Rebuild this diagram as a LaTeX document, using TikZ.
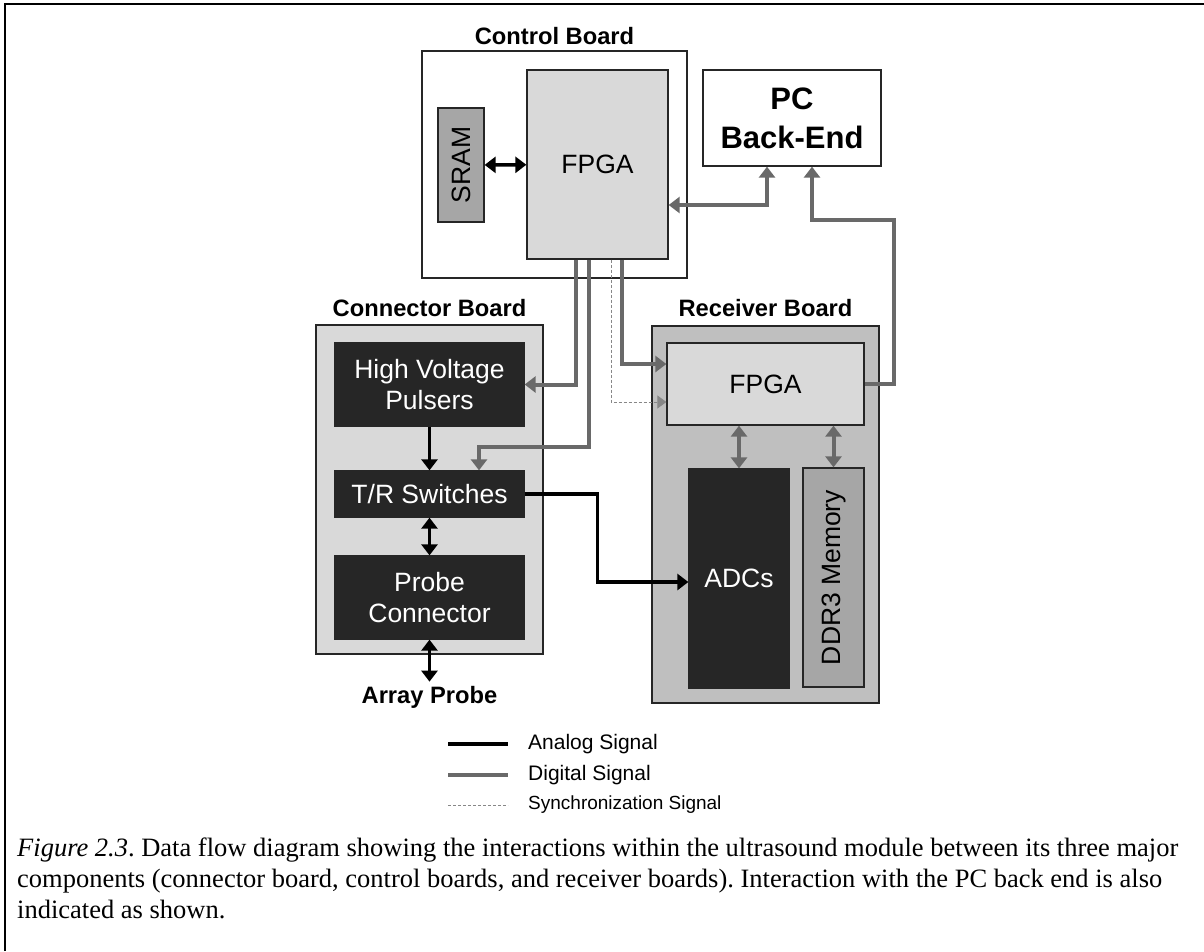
\documentclass[tikz,border=0pt]{standalone}
\usepackage{fontspec}
\setmainfont{Liberation Serif}
\setsansfont{Liberation Sans}
\usetikzlibrary{arrows.meta,positioning}

\definecolor{paleGray}{RGB}{217,217,217}
\definecolor{midGray}{RGB}{191,191,191}
\definecolor{chipGray}{RGB}{166,166,166}
\definecolor{chipBlack}{RGB}{38,38,38}
\definecolor{wireGray}{RGB}{105,105,105}
\definecolor{syncGray}{RGB}{135,135,135}

\begin{document}
\begin{tikzpicture}[
  x=1pt, y=-1pt,
  >={Triangle[length=11pt, width=16pt]},
  board/.style={draw=black!85, line width=1.3pt, inner sep=0},
  chip/.style={draw=black!85, line width=1.3pt, inner sep=0, align=center, font=\fontsize{26.5}{31}\selectfont\sffamily},
  title/.style={inner sep=0, font=\fontsize{23.7}{28}\selectfont\sffamily\bfseries},
  legtext/.style={anchor=west, inner sep=0, font=\fontsize{21}{25}\selectfont\sffamily},
  analog/.style={line width=3.5pt, black},
  digital/.style={line width=4pt, wireGray},
  sync/.style={line width=1pt, syncGray, dash pattern=on 3pt off 2pt, >={Triangle[length=9pt, width=13pt]}}
]
\useasboundingbox (0,0) rectangle (1204,951);
\draw[line width=2.5pt] (5,951) -- (5,4) -- (1204,4);

% control board
\node[board, minimum width=265pt, minimum height=227pt] (ctrlboard) at (554.5,164.5) {};
\node[title, above=5pt of ctrlboard] (ctrltitle) {Control Board};
\node[chip, fill=paleGray, minimum width=141pt, minimum height=189pt] (cfpga) at (597.5,164.5) {FPGA};
\node[chip, fill=chipGray, rotate=90, minimum width=114pt, minimum height=46pt] (sram) at (461,165) {SRAM};

\node[chip, fill=white, minimum width=178pt, minimum height=96pt, font=\fontsize{31}{39}\selectfont\sffamily\bfseries] (pc) at (792,118) {PC\\Back-End};

% connector board
\node[board, fill=paleGray, minimum width=227pt, minimum height=329pt] (connboard) at (429.5,489.5) {};
\node[title, above=7pt of connboard] (conntitle) {Connector Board};
\node[chip, fill=chipBlack, text=white, minimum width=189pt, minimum height=83pt] (pulsers) at (429.5,384.5) {High Voltage\\Pulsers};
\node[chip, fill=chipBlack, text=white, minimum width=189pt, minimum height=46pt] (trsw) at (429.5,494) {T/R Switches};
\node[chip, fill=chipBlack, text=white, minimum width=189pt, minimum height=83pt] (probe) at (429.5,597.5) {Probe\\Connector};
\node[title, inner ysep=4pt, below=42pt of probe] (array) {Array Probe};

% receiver board
\node[board, fill=midGray, minimum width=227pt, minimum height=377pt] (recvboard) at (765.5,514.5) {};
\node[title, above=8pt of recvboard] (recvtitle) {Receiver Board};
\node[chip, fill=paleGray, minimum width=197pt, minimum height=82pt] (rfpga) at (765.5,384) {FPGA};
\node[chip, fill=chipBlack, text=white, minimum width=100pt, minimum height=219pt] (adcs) at (739,578.5) {ADCs};
\node[chip, fill=chipGray, rotate=90, minimum width=219pt, minimum height=61pt] (ddr) at (833.5,577.5) {DDR3 Memory};

% signals
\draw[analog,<->] (sram) -- (cfpga);
\draw[digital,<->] ([yshift=-40.5pt]cfpga.east) -| ([xshift=-25pt]pc.south);
\draw[digital,->] (rfpga.east) -- ++(29,0) |- (812,220) -- ([xshift=20pt]pc.south);
\draw[digital,->] ([xshift=-21.5pt]cfpga.south) |- (pulsers.east);
\draw[digital,->] ([xshift=-8.5pt]cfpga.south) |- ([xshift=49.5pt]trsw.north |- 0,447) -- ([xshift=49.5pt]trsw.north);
\draw[sync,->] ([xshift=13.5pt]cfpga.south) |- ([yshift=-18pt]rfpga.west);
\draw[digital,->] ([xshift=24.5pt]cfpga.south) |- ([yshift=20pt]rfpga.west);
\draw[analog,->] (pulsers) -- (trsw);
\draw[analog,<->] (trsw) -- (probe);
\draw[analog,<->] (probe) -- (array);
\draw[analog,->] (trsw.east) -- ++(73,0) |- ([yshift=-3.5pt]adcs.west);
\draw[digital,<->] (rfpga.south -| adcs.north) -- (adcs.north);
\draw[digital,<->] (rfpga.south -| ddr.east) -- (ddr.east);

% legend
\node[legtext] (lanalog) at (528,744) {Analog Signal};
\node[legtext] (ldigital) at (528,775) {Digital Signal};
\node[legtext, font=\fontsize{19}{23}\selectfont\sffamily] (lsync) at (528,805) {Synchronization Signal};
\draw[line width=4pt, black] ([xshift=-80pt]lanalog.west) -- ++(60,0);
\draw[digital] ([xshift=-80pt]ldigital.west) -- ++(60,0);
\draw[sync] ([xshift=-80pt]lsync.west) -- ++(60,0);

% caption
\node[anchor=north west, inner sep=0, align=left, font=\fontsize{26.5}{31}\selectfont\frenchspacing] (caption) at (17,838)
  {\textit{Figure 2.3}. Data flow diagram showing the interactions within the ultrasound module between its three major\\
   components (connector board, control boards, and receiver boards). Interaction with the PC back end is also\\
   indicated as shown.};
\end{tikzpicture}
\end{document}
